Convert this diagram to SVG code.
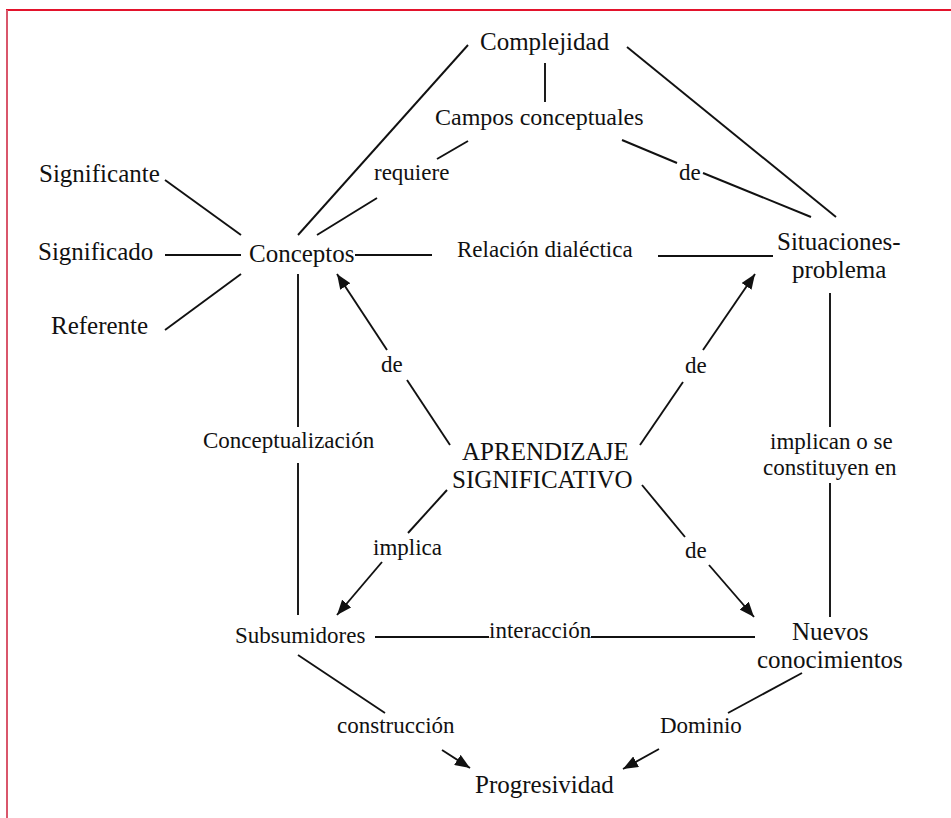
<svg xmlns="http://www.w3.org/2000/svg" width="951" height="818" viewBox="0 0 951 818">
<style>
text{font-family:"Liberation Serif","Times New Roman",serif;fill:#111}
.n{font-size:25px}
.l{font-size:23px}
.c line{stroke:#111;stroke-width:1.9;fill:none}
.c line.a{marker-end:url(#ah)}
</style>
<defs>
<marker id="ah" markerUnits="userSpaceOnUse" markerWidth="16" markerHeight="12" viewBox="0 0 16 12" refX="15" refY="6" orient="auto">
<path d="M0,0 L15,6 L0,12 z" fill="#111"/>
</marker>
</defs>
<rect width="951" height="818" fill="#fff"/>
<line x1="6" y1="10" x2="951" y2="10" stroke="#e3132c" stroke-width="2"/>
<line x1="7" y1="10" x2="7" y2="818" stroke="#d9566b" stroke-width="2"/>
<g class="c" id="connectors">
<line x1="165" y1="180" x2="241" y2="235"/>
<line x1="165" y1="255" x2="241" y2="255"/>
<line x1="165" y1="330" x2="241" y2="274"/>
<line x1="298" y1="235" x2="468" y2="45"/>
<line x1="317" y1="235" x2="377" y2="198"/>
<line x1="437" y1="159" x2="468" y2="141"/>
<line x1="355" y1="255" x2="432" y2="255"/>
<line x1="658" y1="256" x2="773" y2="256"/>
<line x1="545" y1="63" x2="545" y2="102"/>
<line x1="627" y1="47" x2="836" y2="217"/>
<line x1="622" y1="140" x2="677" y2="163"/>
<line x1="703" y1="173" x2="811" y2="217"/>
<line x1="298" y1="274" x2="298" y2="427"/>
<line x1="298" y1="463" x2="298" y2="615"/>
<line x1="450" y1="445" x2="407" y2="380"/>
<line class="a" x1="387" y1="350" x2="337" y2="274"/>
<line x1="640" y1="445" x2="683" y2="382"/>
<line class="a" x1="703" y1="350" x2="755" y2="274"/>
<line x1="830" y1="293" x2="830" y2="427"/>
<line x1="830" y1="483" x2="830" y2="617"/>
<line x1="447" y1="490" x2="408" y2="533"/>
<line class="a" x1="382" y1="562" x2="337" y2="615"/>
<line x1="642" y1="485" x2="685" y2="537"/>
<line class="a" x1="709" y1="565" x2="754" y2="617"/>
<line x1="375" y1="637" x2="489" y2="637"/>
<line x1="591" y1="637" x2="755" y2="637"/>
<line x1="298" y1="655" x2="385" y2="713"/>
<line class="a" x1="442" y1="750" x2="470" y2="768"/>
<line x1="802" y1="673" x2="728" y2="713"/>
<line class="a" x1="659" y1="749" x2="623" y2="769"/>
<g id="labels">
<text class="l" x="374" y="180">requiere</text>
<text class="l" x="679" y="180">de</text>
<text class="l" x="381" y="372">de</text>
<text class="l" x="685" y="373">de</text>
<text class="l" x="373" y="555">implica</text>
<text class="l" x="685" y="558">de</text>
<text class="l" x="489" y="638">interacción</text>
<text class="l" x="337" y="733">construcción</text>
<text class="l" x="660" y="733">Dominio</text>
<text class="l" x="770" y="449">implican o se</text>
<text class="l" x="763" y="475">constituyen en</text>
</g>
</g>
<g id="complejidad"><text class="n" x="480" y="50">Complejidad</text></g>
<g id="campos"><text x="435" y="125" style="font-size:24px">Campos conceptuales</text></g>
<g id="significante"><text class="n" x="39" y="182">Significante</text></g>
<g id="significado"><text class="n" x="38" y="260">Significado</text></g>
<g id="referente"><text class="n" x="51" y="334">Referente</text></g>
<g id="conceptos"><text class="n" x="249" y="262">Conceptos</text></g>
<g id="relacion"><text class="l" x="457" y="257">Relación dialéctica</text></g>
<g id="situaciones"><text class="n" x="777" y="250">Situaciones-</text><text class="n" x="792" y="278">problema</text></g>
<g id="conceptualizacion"><text class="l" x="203" y="448">Conceptualización</text></g>
<g id="aprendizaje"><text class="n" x="462" y="460">APRENDIZAJE</text><text class="n" x="452" y="488">SIGNIFICATIVO</text></g>
<g id="subsumidores"><text class="l" x="235" y="643">Subsumidores</text></g>
<g id="nuevos"><text class="n" x="792" y="640">Nuevos</text><text class="n" x="757" y="668">conocimientos</text></g>
<g id="progresividad"><text class="n" x="475" y="793">Progresividad</text></g>
</svg>
